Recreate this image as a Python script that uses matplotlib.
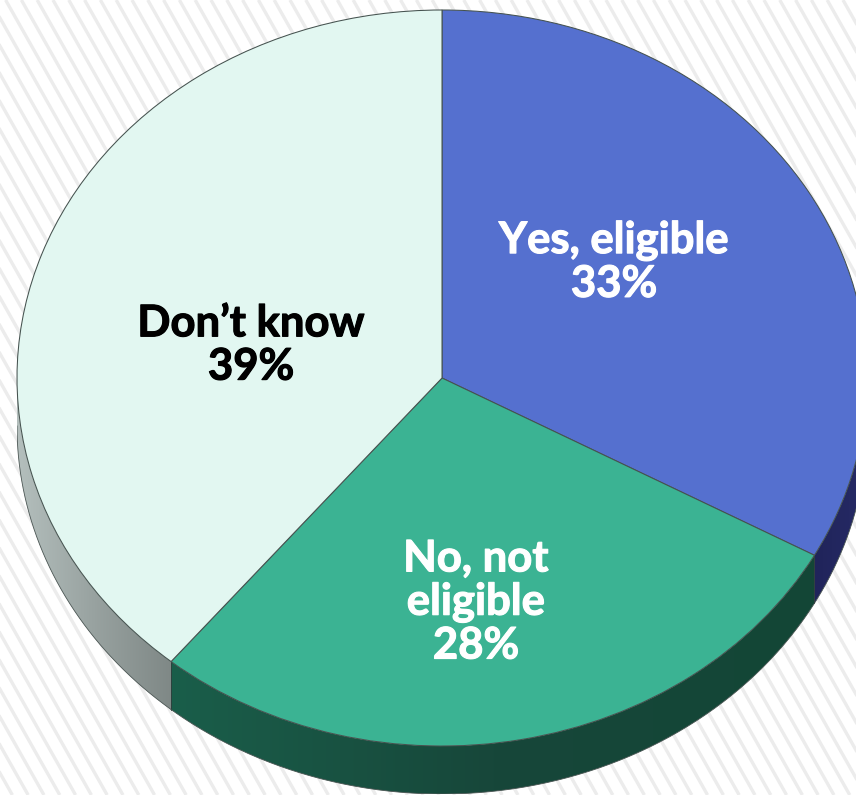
import numpy as np
import matplotlib
matplotlib.use('Agg')
import matplotlib.pyplot as plt
import matplotlib.patheffects as pe
from matplotlib.patches import Polygon
from matplotlib.colors import to_rgb

labels = ['Yes, eligible\n33%', 'No, not\neligible\n28%', 'Don\u2019t know\n39%']
values = [33, 28, 39]
colors = ['#5570cf', '#3bb393', '#e2f7f1']
label_colors = ['white', 'white', 'black']

W, H = 856, 795
CX, CY, RX, RY = 442, 378, 425, 368
DEPTH = 48 / RY  # wall height in pie units

# wall colours along the visible part of each slice, going clockwise
wall_colors = [['#262a66', '#20245a'],
               ['#134636', '#17473a', '#1a5e4a'],
               ['#7f8886', '#98a2a0', '#b4bfbd']]

plt.rcParams['font.family'] = ['Lato', 'DejaVu Sans']

fig = plt.figure(figsize=(W / 100, H / 100), dpi=100)

# striped background
bg = fig.add_axes([0, 0, 1, 1], zorder=0)
bg.set_xlim(0, W)
bg.set_ylim(H, 0)
bg.axis('off')
for x0 in np.arange(-500, W + 50, 15.8):
    bg.plot([x0, x0 + H / 1.77], [0, H], color='#ececec', lw=2.4, solid_capstyle='butt')

# axes spans the top ellipse plus the wall, it runs off the right edge of the figure
wall_px = DEPTH * RY
ax = fig.add_axes([(CX - RX) / W, 1 - (CY + RY + wall_px) / H, 2 * RX / W, (2 * RY + wall_px) / H],
                  zorder=1)

wedges, _ = ax.pie(values, colors=colors, startangle=90, counterclock=False, radius=1,
                   wedgeprops=dict(edgecolor='#45524f', linewidth=0.75, zorder=3))

# side wall, only the front half (90..270 deg clockwise from the top) shows
edges = np.concatenate([[0], np.cumsum(values)]) / np.sum(values) * 360
for i in range(len(values)):
    a = max(edges[i], 90)
    b = min(edges[i + 1], 270)
    t = np.radians(np.linspace(a, b, 200))
    x, y = np.sin(t), np.cos(t)
    pts = np.vstack([np.column_stack([x, y]), np.column_stack([x[::-1], y[::-1] - DEPTH])])
    wall = Polygon(pts, closed=True, facecolor='none', edgecolor='none', zorder=1)
    ax.add_patch(wall)

    # horizontal gradient, clipped to the wall shape
    stops = np.array([to_rgb(c) for c in wall_colors[i]])
    f = np.linspace(1, 0, 256)  # image runs left to right, colours run clockwise (right to left)
    grad = np.stack([np.interp(f, np.linspace(0, 1, len(stops)), stops[:, k]) for k in range(3)], axis=-1)
    im = ax.imshow(grad[np.newaxis, :, :], extent=(x.min(), x.max(), -1 - DEPTH, 1), aspect='auto',
                   zorder=1, interpolation='bilinear')
    im.set_clip_path(wall)

    ax.plot(x, y - DEPTH, color='#4a5553', lw=0.6, zorder=2)
    if b < 270:
        ax.plot([x[-1], x[-1]], [y[-1], y[-1] - DEPTH], color='#2c3a38', lw=0.6, zorder=2)

ax.set_aspect('auto')
ax.set_xlim(-1, 1)
ax.set_ylim(-1 - DEPTH, 1)
ax.patch.set_visible(False)

# slice labels, positions in picture pixels
top = fig.add_axes([0, 0, 1, 1], zorder=2)
top.set_xlim(0, W)
top.set_ylim(H, 0)
top.axis('off')
label_pos = [(614, 262), (476, 602), (251, 345)]
for txt, c, (px, py) in zip(labels, label_colors, label_pos):
    top.text(px, py, txt, color=c, fontsize=31.4, fontweight='bold', ha='center', va='center',
             linespacing=1.1, path_effects=[pe.withStroke(linewidth=0.8, foreground=c)])

fig.savefig('out.png', dpi=100)
